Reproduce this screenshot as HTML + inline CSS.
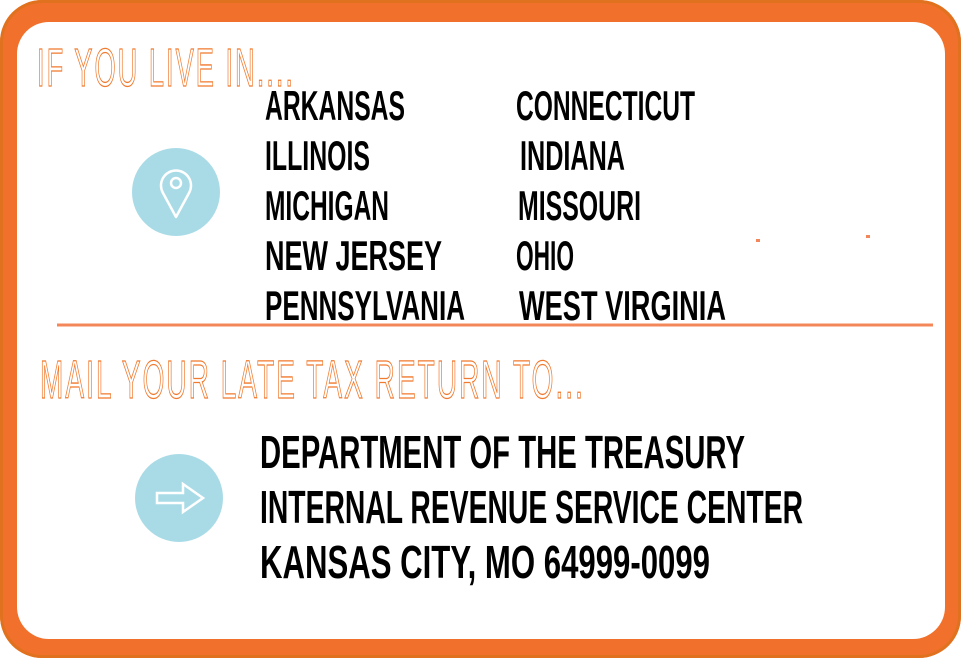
<!DOCTYPE html>
<html><head><meta charset="utf-8"><style>
html,body{margin:0;padding:0;background:#fff;}
svg{display:block;}
.st{font-family:"Liberation Sans",sans-serif;font-weight:bold;font-size:42px;fill:#000;}
.ad{font-family:"Liberation Sans",sans-serif;font-weight:bold;font-size:46px;fill:#000;}
.hd{font-family:"Liberation Sans",sans-serif;font-size:54px;fill:#fff;stroke:#f07a2e;stroke-width:1.3px;letter-spacing:4px;}
</style></head><body>
<svg width="972" height="661" viewBox="0 0 972 661" xmlns="http://www.w3.org/2000/svg">
<rect x="0" y="0" width="961" height="658" rx="42" fill="#f1712c"/>
<rect x="1.5" y="1.5" width="958" height="655" rx="41" fill="none" stroke="#e0721f" stroke-width="3"/>
<rect x="17" y="22" width="928" height="617" rx="32" fill="#fff"/>
<text class="hd" x="37" y="86" textLength="258" lengthAdjust="spacingAndGlyphs">IF YOU LIVE IN....</text>
<text class="hd" x="40" y="398" textLength="545" lengthAdjust="spacingAndGlyphs">MAIL YOUR LATE TAX RETURN TO...</text>
<line x1="57" y1="325" x2="933" y2="325" stroke="#f4875a" stroke-width="3"/>
<rect x="756" y="239" width="4" height="3" fill="#f4875a"/>
<rect x="866" y="235" width="4" height="3" fill="#f4875a"/>
<circle cx="176" cy="192" r="44" fill="#a9dbe7"/>
<path d="M176 217 L163 193 A15 15 0 1 1 189 193 Z" fill="none" stroke="#fff" stroke-width="2.5" stroke-linejoin="round"/>
<circle cx="176" cy="183" r="5" fill="none" stroke="#fff" stroke-width="2.5"/>
<circle cx="179" cy="498" r="44" fill="#a9dbe7"/>
<path d="M157 493 H183 V484 L203 498 L183 512 V503 H157 Z" fill="none" stroke="#fff" stroke-width="2.5" stroke-linejoin="miter"/>
<text class="st" x="265" y="120" textLength="140" lengthAdjust="spacingAndGlyphs">ARKANSAS</text>
<text class="st" x="265" y="170" textLength="105" lengthAdjust="spacingAndGlyphs">ILLINOIS</text>
<text class="st" x="265" y="220" textLength="124" lengthAdjust="spacingAndGlyphs">MICHIGAN</text>
<text class="st" x="265" y="270" textLength="177" lengthAdjust="spacingAndGlyphs">NEW JERSEY</text>
<text class="st" x="265" y="320" textLength="200" lengthAdjust="spacingAndGlyphs">PENNSYLVANIA</text>
<text class="st" x="516" y="120" textLength="179" lengthAdjust="spacingAndGlyphs">CONNECTICUT</text>
<text class="st" x="520" y="170" textLength="105" lengthAdjust="spacingAndGlyphs">INDIANA</text>
<text class="st" x="518" y="220" textLength="123" lengthAdjust="spacingAndGlyphs">MISSOURI</text>
<text class="st" x="516" y="270" textLength="58" lengthAdjust="spacingAndGlyphs">OHIO</text>
<text class="st" x="519" y="320" textLength="207" lengthAdjust="spacingAndGlyphs">WEST VIRGINIA</text>
<text class="ad" x="260" y="468" textLength="485" lengthAdjust="spacingAndGlyphs">DEPARTMENT OF THE TREASURY</text>
<text class="ad" x="260" y="523" textLength="543" lengthAdjust="spacingAndGlyphs">INTERNAL REVENUE SERVICE CENTER</text>
<text class="ad" x="260" y="578" textLength="450" lengthAdjust="spacingAndGlyphs">KANSAS CITY, MO 64999-0099</text>
</svg>
</body></html>
